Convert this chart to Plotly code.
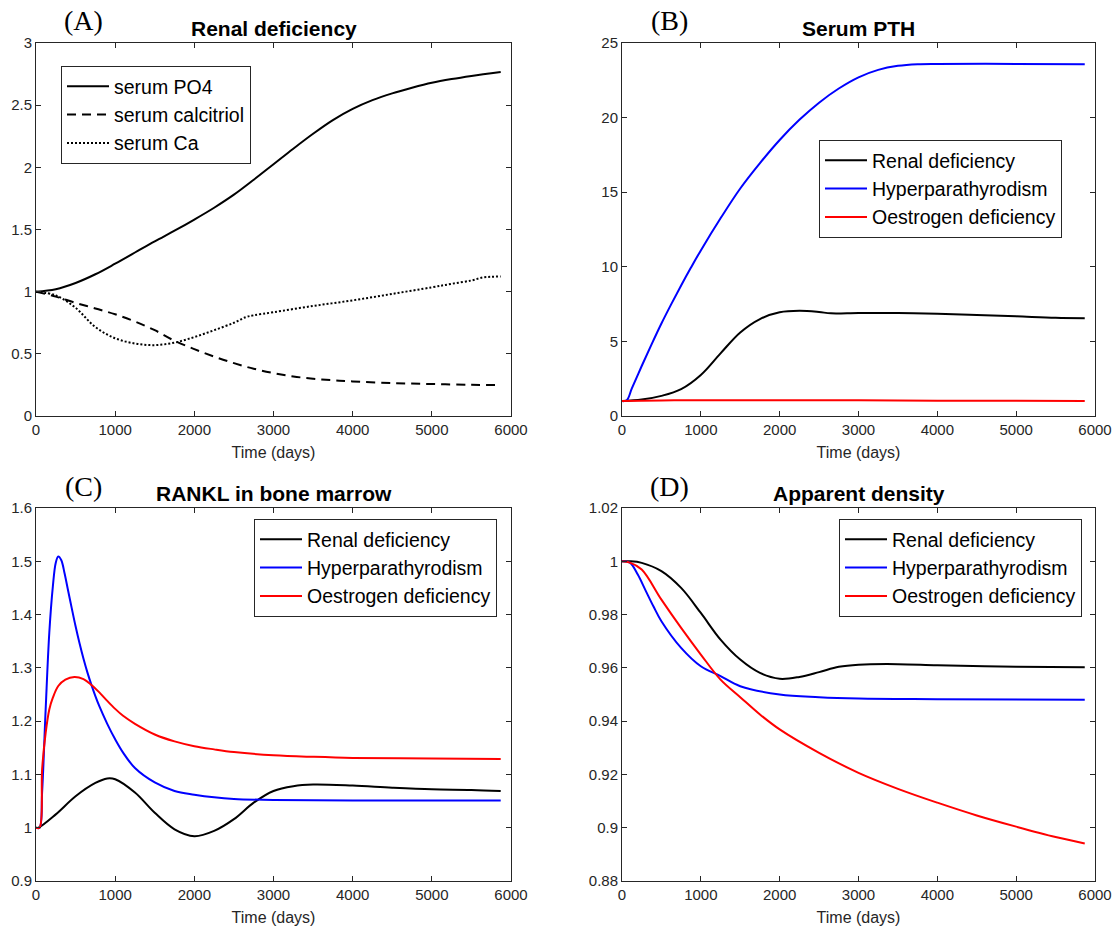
import plotly.graph_objects as go

# ---------------- data ----------------
# Panel A: Renal deficiency
a_days_po4 = [0, 250, 500, 750, 1000, 1250, 1500, 1750, 2000, 2250, 2500, 2750, 3000, 3250, 3500, 3750, 4000, 4250, 4500, 4750, 5000, 5250, 5500, 5870]
a_po4 = [1.0, 1.02, 1.07, 1.14, 1.225, 1.315, 1.405, 1.49, 1.58, 1.675, 1.78, 1.9, 2.025, 2.15, 2.27, 2.38, 2.47, 2.54, 2.595, 2.64, 2.68, 2.71, 2.735, 2.767]
a_days_calc = [0, 250, 500, 750, 1000, 1250, 1500, 1750, 2000, 2250, 2500, 2750, 3000, 3250, 3500, 3750, 4000, 4500, 5000, 5500, 5870]
a_calc = [1.0, 0.96, 0.91, 0.865, 0.818, 0.76, 0.69, 0.605, 0.538, 0.478, 0.425, 0.38, 0.345, 0.318, 0.30, 0.288, 0.278, 0.265, 0.257, 0.251, 0.248]
a_days_ca = [0, 250, 500, 750, 1000, 1250, 1500, 1750, 2000, 2250, 2500, 2650, 2750, 3000, 3500, 4000, 4500, 5000, 5250, 5500, 5650, 5750, 5870]
a_ca = [1.0, 0.97, 0.87, 0.715, 0.625, 0.583, 0.57, 0.59, 0.635, 0.69, 0.75, 0.795, 0.81, 0.835, 0.885, 0.93, 0.982, 1.035, 1.063, 1.09, 1.115, 1.12, 1.122]

# Panel B: Serum PTH
b_days_renal = [0, 250, 500, 750, 1000, 1250, 1500, 1750, 2000, 2250, 2500, 2650, 3000, 3500, 4000, 4500, 5000, 5500, 5870]
b_renal = [1.0, 1.1, 1.35, 1.8, 2.75, 4.2, 5.6, 6.5, 6.95, 7.05, 6.97, 6.88, 6.9, 6.9, 6.85, 6.77, 6.68, 6.58, 6.55]
b_days_hyper = [0, 60, 125, 250, 375, 500, 625, 750, 875, 1000, 1250, 1500, 1750, 2000, 2250, 2500, 2750, 3000, 3250, 3500, 3750, 4000, 5000, 5870]
b_hyper = [1.0, 1.05, 1.85, 3.35, 4.8, 6.2, 7.5, 8.75, 9.95, 11.1, 13.25, 15.25, 16.95, 18.5, 19.85, 21.0, 21.95, 22.7, 23.2, 23.47, 23.58, 23.6, 23.6, 23.58]
b_days_oest = [0, 500, 1000, 2000, 3000, 4000, 5000, 5870]
b_oest = [1.0, 1.04, 1.06, 1.06, 1.05, 1.03, 1.02, 1.01]

# Panel C: RANKL in bone marrow
c_days_renal = [0, 30, 250, 500, 750, 900, 1000, 1250, 1500, 1750, 2000, 2250, 2500, 2750, 3000, 3250, 3500, 4000, 4500, 5000, 5500, 5870]
c_renal = [1.0, 1.0, 1.025, 1.059, 1.084, 1.0925, 1.091, 1.066, 1.028, 0.997, 0.984, 0.994, 1.016, 1.047, 1.069, 1.078, 1.081, 1.079, 1.075, 1.072, 1.071, 1.069]
c_days_hyper = [0, 45, 77, 122, 168, 213, 249, 281, 320, 360, 400, 450, 500, 550, 600, 650, 700, 750, 800, 900, 1000, 1100, 1250, 1500, 1750, 2000, 2250, 2500, 3000, 4000, 5870]
c_hyper = [1.0, 1.0, 1.066, 1.222, 1.366, 1.453, 1.497, 1.509, 1.502, 1.478, 1.449, 1.413, 1.378, 1.346, 1.317, 1.291, 1.268, 1.247, 1.228, 1.195, 1.166, 1.141, 1.112, 1.085, 1.069, 1.062, 1.057, 1.054, 1.052, 1.051, 1.051]
c_days_oest = [0, 45, 77, 122, 168, 213, 281, 371, 485, 600, 700, 800, 900, 1000, 1100, 1250, 1500, 1750, 2000, 2250, 2500, 3000, 3500, 4000, 5000, 5870]
c_oest = [1.0, 1.0, 1.109, 1.178, 1.222, 1.244, 1.266, 1.278, 1.283, 1.279, 1.268, 1.254, 1.238, 1.223, 1.21, 1.195, 1.175, 1.162, 1.153, 1.147, 1.142, 1.136, 1.133, 1.131, 1.13, 1.129]

# Panel D: Apparent density
d_days_renal = [0, 100, 250, 500, 750, 1000, 1250, 1500, 1750, 2000, 2250, 2500, 2750, 3000, 3500, 4000, 5000, 5870]
d_renal = [1.0, 1.0, 0.9994, 0.9963, 0.990, 0.9806, 0.9706, 0.9631, 0.9581, 0.9559, 0.9566, 0.9584, 0.9604, 0.9612, 0.9614, 0.961, 0.9604, 0.9602]
d_days_hyper = [0, 100, 200, 300, 400, 500, 750, 1000, 1250, 1500, 2000, 2500, 3000, 4000, 5870]
d_hyper = [1.0, 0.9995, 0.995, 0.989, 0.983, 0.9775, 0.9675, 0.9606, 0.9569, 0.9531, 0.950, 0.949, 0.9485, 0.94825, 0.948]
d_days_oest = [0, 100, 250, 500, 750, 1000, 1250, 1500, 1750, 2000, 2500, 3000, 3500, 4000, 4500, 5000, 5500, 5870]
d_oest = [1.0, 0.9995, 0.9969, 0.9856, 0.975, 0.965, 0.9556, 0.949, 0.9425, 0.9369, 0.9281, 0.9206, 0.9146, 0.9094, 0.9046, 0.9004, 0.8965, 0.8941]

titles = ["Renal deficiency", "Serum PTH", "RANKL in bone marrow", "Apparent density"]
panel_labels = ["(A)", "(B)", "(C)", "(D)"]
scenario_names = ["Renal deficiency", "Hyperparathyrodism", "Oestrogen deficiency"]
a_names = ["serum PO4", "serum calcitriol", "serum Ca"]
x_label = "Time (days)"

x_ticks = [0, 1000, 2000, 3000, 4000, 5000, 6000]
a_ticks = [0, 0.5, 1, 1.5, 2, 2.5, 3]
a_ticktext = ["0", "0.5", "1", "1.5", "2", "2.5", "3"]
b_ticks = [0, 5, 10, 15, 20, 25]
b_ticktext = ["0", "5", "10", "15", "20", "25"]
c_ticks = [0.9, 1.0, 1.1, 1.2, 1.3, 1.4, 1.5, 1.6]
c_ticktext = ["0.9", "1", "1.1", "1.2", "1.3", "1.4", "1.5", "1.6"]
d_ticks = [0.88, 0.90, 0.92, 0.94, 0.96, 0.98, 1.00, 1.02]
d_ticktext = ["0.88", "0.9", "0.92", "0.94", "0.96", "0.98", "1", "1.02"]

# ---------------- layout geometry ----------------
W, H = 1113, 927
def px_x(p): return p / W
def px_y(p): return 1 - p / H

dom_x = [(36, 511), (622, 1095), (36, 511), (622, 1095)]
dom_y = [(43, 416), (43, 416), (508, 881), (508, 881)]

AX_COL = "#262626"
SANS = "Liberation Sans, Arial, sans-serif"
SERIF = "Liberation Serif, DejaVu Serif, serif"
LW = 2

fig = go.Figure()

def add(x, y, name, color, dash, axis_idx, legend):
    xa = "x" if axis_idx == 1 else f"x{axis_idx}"
    ya = "y" if axis_idx == 1 else f"y{axis_idx}"
    fig.add_trace(go.Scatter(
        x=x, y=y, name=name, mode="lines",
        line=dict(color=color, width=LW, dash=dash, shape="spline", smoothing=1.0),
        xaxis=xa, yaxis=ya, legend=legend, showlegend=True,
    ))

add(a_days_po4, a_po4, a_names[0], "black", "solid", 1, "legend")
add(a_days_calc, a_calc, a_names[1], "black", "9px,6px", 1, "legend")
add(a_days_ca, a_ca, a_names[2], "black", "2px,2px", 1, "legend")

add(b_days_renal, b_renal, scenario_names[0], "black", "solid", 2, "legend2")
add(b_days_hyper, b_hyper, scenario_names[1], "blue", "solid", 2, "legend2")
add(b_days_oest, b_oest, scenario_names[2], "red", "solid", 2, "legend2")

add(c_days_renal, c_renal, scenario_names[0], "black", "solid", 3, "legend3")
add(c_days_hyper, c_hyper, scenario_names[1], "blue", "solid", 3, "legend3")
add(c_days_oest, c_oest, scenario_names[2], "red", "solid", 3, "legend3")

add(d_days_renal, d_renal, scenario_names[0], "black", "solid", 4, "legend4")
add(d_days_hyper, d_hyper, scenario_names[1], "blue", "solid", 4, "legend4")
add(d_days_oest, d_oest, scenario_names[2], "red", "solid", 4, "legend4")

y_ranges = [(0, 3), (0, 25), (0.9, 1.6), (0.88, 1.02)]
y_tickvals = [a_ticks, b_ticks, c_ticks, d_ticks]
y_ticktexts = [a_ticktext, b_ticktext, c_ticktext, d_ticktext]

layout = dict(
    width=W, height=H, margin=dict(l=0, r=0, t=0, b=0, pad=0, autoexpand=False),
    paper_bgcolor="white", plot_bgcolor="white",
    font=dict(family=SANS, color=AX_COL, size=15),
    annotations=[],
)

axis_common = dict(
    showgrid=False, zeroline=False, showline=True, linecolor=AX_COL, linewidth=1,
    mirror="ticks", ticks="inside", ticklen=5, tickwidth=1, tickcolor=AX_COL,
    tickfont=dict(family=SANS, size=15, color=AX_COL), automargin=False,
)

for i in range(4):
    k = "" if i == 0 else str(i + 1)
    x0, x1 = dom_x[i]
    y0, y1 = dom_y[i]
    layout[f"xaxis{k}"] = dict(
        axis_common, domain=[px_x(x0), px_x(x1)], range=[0, 6000],
        tickvals=x_ticks, ticktext=[str(t) for t in x_ticks],
        anchor=f"y{k}",
        title=dict(text=x_label, font=dict(family=SANS, size=16, color=AX_COL), standoff=9),
    )
    layout[f"yaxis{k}"] = dict(
        axis_common, domain=[px_y(y1), px_y(y0)], range=list(y_ranges[i]),
        tickvals=y_tickvals[i], ticktext=y_ticktexts[i], anchor=f"x{k}",
    )
    layout["annotations"].append(dict(
        x=px_x((x0 + x1) / 2), y=px_y(y0 - 15), xref="paper", yref="paper",
        text=f"<b>{titles[i]}</b>", showarrow=False, xanchor="center", yanchor="middle",
        font=dict(family=SANS, size=21, color="black"),
    ))
    layout["annotations"].append(dict(
        x=px_x(x0 + 47), y=px_y(y0 - 22), xref="paper", yref="paper",
        text=panel_labels[i], showarrow=False, xanchor="center", yanchor="middle",
        font=dict(family=SERIF, size=28, color="black"),
    ))

legend_pos = [(61, 66), (819, 140), (254, 519), (839, 519)]
for i, key in enumerate(["legend", "legend2", "legend3", "legend4"]):
    lx, ly = legend_pos[i]
    layout[key] = dict(
        x=px_x(lx), y=px_y(ly), xanchor="left", yanchor="top",
        bgcolor="white", bordercolor=AX_COL, borderwidth=1,
        font=dict(family=SANS, size=19.5, color="black"),
        itemwidth=42,
    )

fig.update_layout(**layout)
fig.write_html(
    "out.html",
    config={"displayModeBar": False},
    post_script="document.body.style.margin='0';document.body.style.overflow='hidden';",
)
